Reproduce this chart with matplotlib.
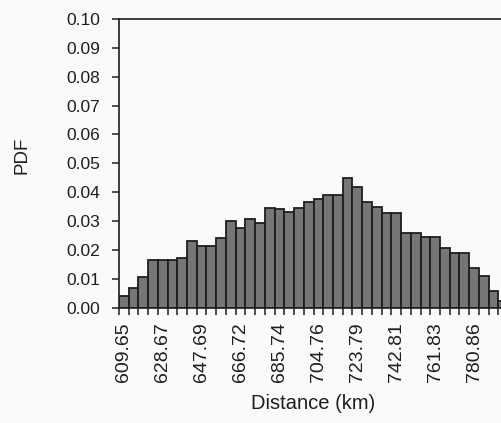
import numpy as np
import matplotlib
matplotlib.use("Agg")
import matplotlib.pyplot as plt
from matplotlib.ticker import FixedLocator, FormatStrFormatter

plt.rcParams['font.family'] = ['Liberation Sans', 'DejaVu Sans']

# PDF of distance per bin (bin width ~4.76 km, first bin centred at 609.65 km)
pdf = [0.0041, 0.0069, 0.0107, 0.0165, 0.0165, 0.0165, 0.0171, 0.0230,
       0.0214, 0.0214, 0.0242, 0.0301, 0.0277, 0.0307, 0.0294, 0.0344,
       0.0340, 0.0332, 0.0344, 0.0366, 0.0377, 0.0391, 0.0391, 0.0449,
       0.0417, 0.0367, 0.0347, 0.0329, 0.0329, 0.0259, 0.0259, 0.0245,
       0.0245, 0.0207, 0.0188, 0.0188, 0.0136, 0.0110, 0.0056, 0.0024]

# every fourth bin gets a label
tick_labels = ["609.65", "628.67", "647.69", "666.72", "685.74",
               "704.76", "723.79", "742.81", "761.83", "780.86"]
label_every = 4

ink = "#1e1e1e"
x = np.arange(len(pdf))

fig = plt.figure(figsize=(5.01, 4.23), dpi=100, facecolor="#fafafa")
# axes run past the right edge of the figure
ax = fig.add_axes([118.9 / 501, 115.5 / 423, 389.2 / 501, 288.5 / 423])
ax.set_facecolor("#fafafa")

ax.bar(x, pdf, width=1.0, color="#767676", edgecolor=ink, linewidth=1.3)

ax.set_xlim(-0.5, len(pdf) - 0.5)
ax.set_ylim(0, 0.10)

ax.set_yticks(np.arange(0, 0.1001, 0.01))
ax.yaxis.set_major_formatter(FormatStrFormatter("%.2f"))
ax.tick_params(axis="y", length=5, width=1.1, color=ink, pad=8.5,
               labelsize=12.5, labelcolor=ink)

ax.set_xticks(x[::label_every])
ax.set_xticklabels(tick_labels, rotation=90)
ax.xaxis.set_minor_locator(FixedLocator(np.arange(len(pdf) + 1) - 0.5))
ax.tick_params(axis="x", which="major", length=0, pad=10.5,
               labelsize=14, labelcolor=ink)
ax.tick_params(axis="x", which="minor", length=5, width=1.1, color=ink)

for side in ["left", "bottom", "top", "right"]:
    ax.spines[side].set_color(ink)
    ax.spines[side].set_linewidth(1.2)

ax.set_xlabel("Distance (km)", fontsize=14.5, color=ink, va="center")
ax.xaxis.set_label_coords(0.499, -0.334)
ax.set_ylabel("PDF", fontsize=13.5, color=ink, va="center")
ax.yaxis.set_label_coords(-0.250, 0.529)

fig.savefig("out.png", dpi=100, facecolor=fig.get_facecolor())
